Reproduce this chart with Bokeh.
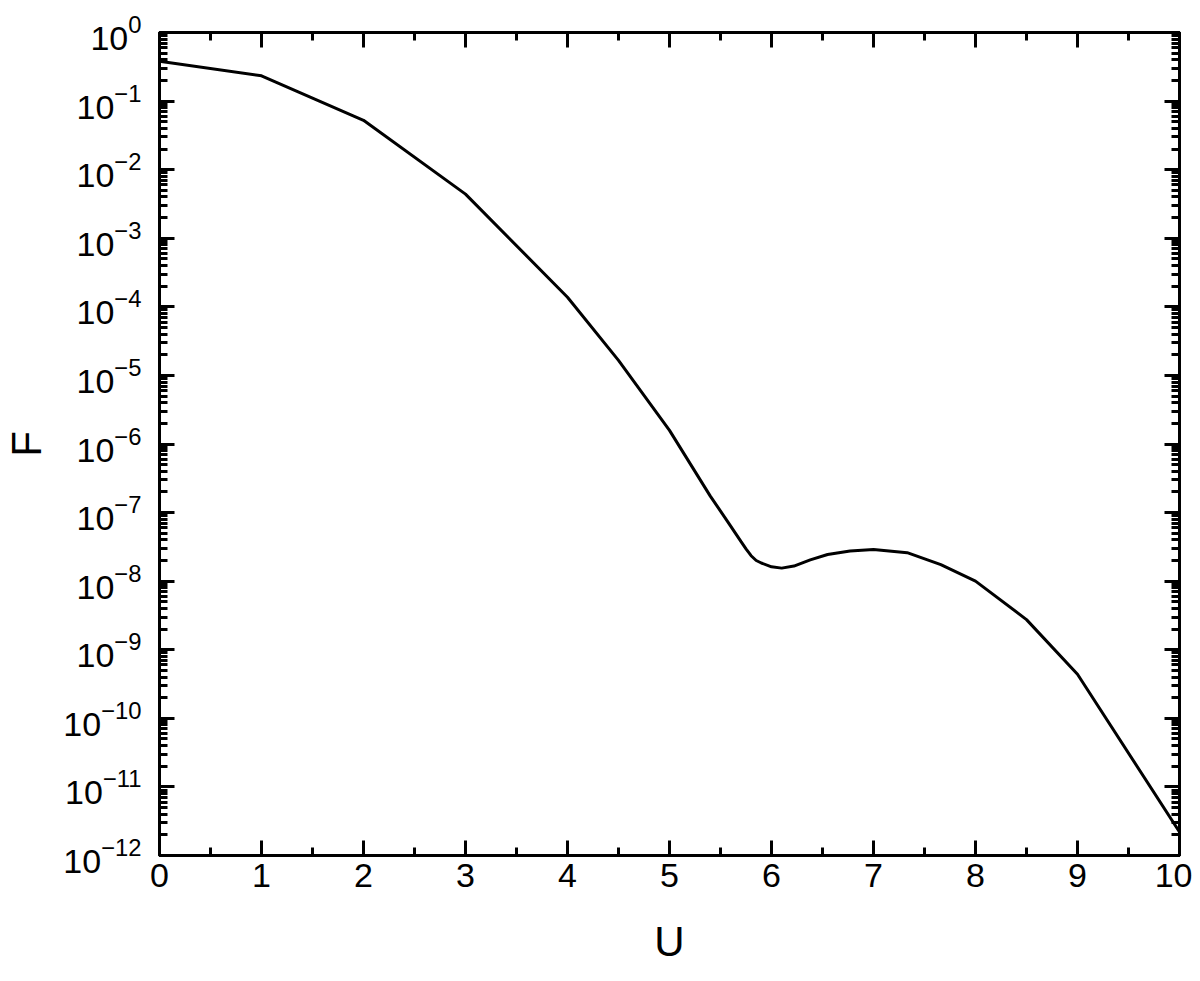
import numpy as np
from bokeh.plotting import figure
from bokeh.models import (Range1d, LogAxis, LinearAxis, FixedTicker, LogTickFormatter)
from bokeh.embed import file_html
from bokeh.resources import INLINE

# Data
u = [0, 1, 2, 3, 4, 4.5, 5, 5.4, 5.57, 5.7, 5.75, 5.8, 5.85, 5.9, 6.0, 6.1, 6.22, 6.38,
     6.55, 6.77, 7.0, 7.33, 7.66, 8.0, 8.5, 9.0, 10]
F = [0.38, 0.234, 0.0525, 4.4e-3, 1.38e-4, 1.66e-5, 1.58e-6, 1.74e-7, 7.4e-8, 3.8e-8,
     2.95e-8, 2.35e-8, 2.0e-8, 1.84e-8, 1.62e-8, 1.55e-8, 1.66e-8, 2.04e-8,
     2.45e-8, 2.75e-8, 2.9e-8, 2.6e-8, 1.74e-8, 1.0e-8, 2.75e-9, 4.4e-10, 2.2e-12]

x_ticks = [0, 1, 2, 3, 4, 5, 6, 7, 8, 9, 10]
x_minor = [0.5, 1.5, 2.5, 3.5, 4.5, 5.5, 6.5, 7.5, 8.5, 9.5]
y_exps = list(range(-12, 1))

FONT = "Liberation Sans"

y_major = [10.0 ** e for e in y_exps]
y_minor = [m * 10.0 ** e for e in y_exps[:-1] for m in range(2, 10)]

p = figure(frame_width=1020, frame_height=823, output_backend="svg", toolbar_location=None,
           x_range=Range1d(0, 10), y_range=Range1d(1e-12, 1), y_axis_type="log",
           x_axis_label="U", y_axis_label="F",
           min_border_left=140, min_border_top=32, min_border_right=13, min_border_bottom=110)
p.grid.visible = False
p.outline_line_color = "black"
p.outline_line_width = 3

p.line(u, F, line_color="black", line_width=3)

xt = FixedTicker(ticks=x_ticks, minor_ticks=x_minor)
yt = FixedTicker(ticks=y_major, minor_ticks=y_minor)

def style(ax, labels=True):
    ax.axis_line_width = 3
    ax.axis_line_color = "black"
    ax.major_tick_in = 15
    ax.major_tick_out = 0
    ax.minor_tick_in = 8
    ax.minor_tick_out = 0
    ax.major_tick_line_width = 3
    ax.minor_tick_line_width = 3
    ax.major_label_text_font = FONT
    ax.major_label_text_font_size = "34px"
    ax.major_label_text_color = "black" if labels else None
    ax.axis_label_text_font = FONT
    ax.axis_label_text_font_size = "42px"
    ax.axis_label_text_font_style = "normal"
    ax.axis_label_text_color = "black"

xa = p.xaxis[0]
xa.ticker = xt
style(xa)
xa.major_label_standoff = 8
xa.axis_label_standoff = 28

ya = p.yaxis[0]
ya.ticker = yt
ya.formatter = LogTickFormatter()
style(ya)
ya.major_label_standoff = 18
ya.axis_label_standoff = 10

top = LinearAxis(ticker=FixedTicker(ticks=x_ticks, minor_ticks=x_minor))
style(top, labels=False)
top.major_label_text_font_size = "0px"
p.add_layout(top, "above")

right = LogAxis(ticker=FixedTicker(ticks=y_major, minor_ticks=y_minor))
style(right, labels=False)
right.major_label_text_font_size = "0px"
p.add_layout(right, "right")

open("out.html", "w").write(file_html(p, INLINE))
